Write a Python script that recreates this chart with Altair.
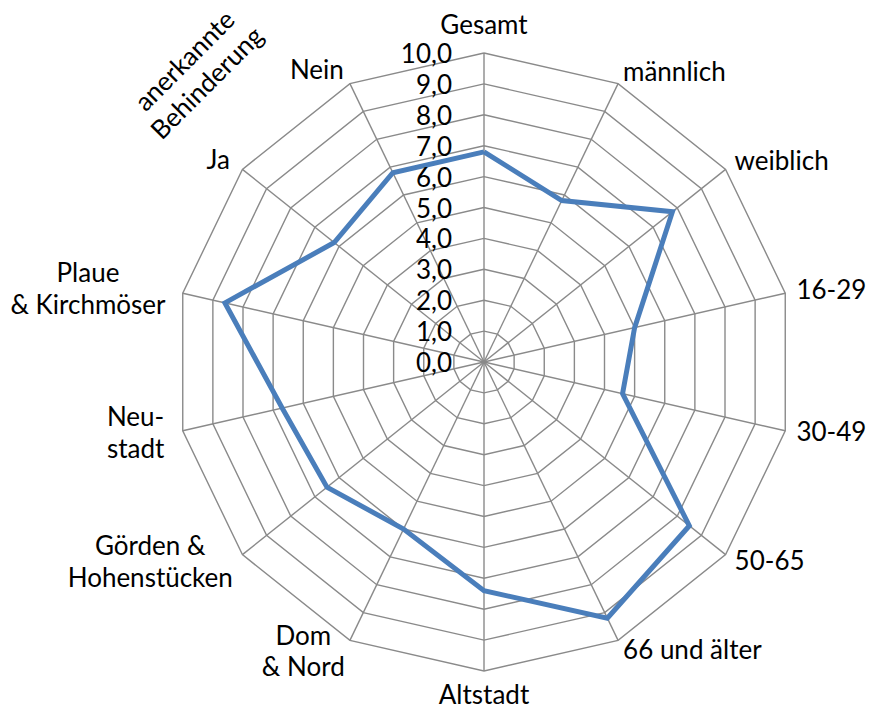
import math
import altair as alt
import pandas as pd

# ---------------- data ----------------
categories = ["Gesamt", "männlich", "weiblich", "16-29", "30-49", "50-65",
              "66 und älter", "Altstadt", "Dom\n& Nord", "Görden &\nHohenstücken",
              "Neu-\nstadt", "Plaue\n& Kirchmöser", "Ja", "Nein"]
values = [6.8, 5.8, 7.8, 5.0, 4.6, 8.5, 9.2, 7.4, 6.0, 6.5, 6.7, 8.6, 6.2, 6.8]
tick_values = [0, 1, 2, 3, 4, 5, 6, 7, 8, 9, 10]
tick_labels = ["0,0", "1,0", "2,0", "3,0", "4,0", "5,0", "6,0", "7,0", "8,0", "9,0", "10,0"]
group_label = ["anerkannte\nBehinderung"]

# ---------------- layout constants ----------------
N = len(categories)
RMAX = 10
PX = 30.9            # pixels per unit
W, H = 858, 702
CX, CY = 476, 354    # center in plot pixels
x_dom = [-CX / PX, (W - CX) / PX]
y_dom = [-(H - CY) / PX, CY / PX]
FONT = "Lato"
FS = 26
LH = 31.5
GRID = "#8a8a8a"
BLUE = "#4a7ebb"


def pol(r, i):
    a = 2 * math.pi * i / N
    return r * math.sin(a), r * math.cos(a)


xs = alt.Scale(domain=x_dom, nice=False, zero=False)
ys = alt.Scale(domain=y_dom, nice=False, zero=False)
X = lambda f="x": alt.X(f"{f}:Q", scale=xs, axis=None)
Y = lambda f="y": alt.Y(f"{f}:Q", scale=ys, axis=None)

# series (closed polygon)
ser_rows = []
for k in range(N + 1):
    i = k % N
    x, y = pol(values[i], k)
    ser_rows.append({"k": k, "cat": categories[i], "value": values[i], "x": x, "y": y})
ser = pd.DataFrame(ser_rows)

# grid rings
ring_rows = []
for lv in tick_values[1:]:
    for k in range(N + 1):
        x, y = pol(lv, k)
        ring_rows.append({"level": lv, "k": k, "x": x, "y": y})
rings = pd.DataFrame(ring_rows)

# spokes
spk_rows = []
for i in range(N):
    x, y = pol(RMAX, i)
    spk_rows.append({"i": i, "x": 0.0, "y": 0.0, "x2": x, "y2": y})
spokes = pd.DataFrame(spk_rows)

# tick labels
ticks = pd.DataFrame({"x": [0.0] * len(tick_values), "y": tick_values, "t": tick_labels})

# category labels
lab_rows = []
for i, c in enumerate(categories):
    a = 2 * math.pi * i / N
    s, co = math.sin(a), math.cos(a)
    lines = c.split("\n")
    if abs(s) < 0.05:
        grp = "center"
        r = RMAX + 27.5 / PX if co > 0 else RMAX + 24.5 / PX
        x, y = r * s, r * co
    elif s > 0:
        grp = "left"
        r = RMAX + 11.5 / PX
        x, y = r * s, r * co
    else:
        grp = "mid"
        r = RMAX + 13.5 / PX
        est_w = max(len(l) for l in lines) * 13.6 / PX
        x, y = r * s - est_w / 2, r * co
    # multi-line blocks: Vega puts first line at the anchor -> lift block to center it
    y += (len(lines) - 1) * LH / 2 / PX
    lab_rows.append({"label": c, "x": x, "y": y, "grp": grp})
labs = pd.DataFrame(lab_rows)

# group annotation (rotated 45°, two lines)
ga_r, ga_a = 13.2, math.radians(-44.8)
gx, gy = ga_r * math.sin(ga_a), ga_r * math.cos(ga_a)
shift = LH / 2 / PX * math.sqrt(0.5)
grp_df = pd.DataFrame({"label": group_label, "x": [gx - shift], "y": [gy + shift]})

# ---------------- layers ----------------
ring_layer = alt.Chart(rings).mark_line(color=GRID, strokeWidth=1.4).encode(
    x=X(), y=Y(), detail="level:N", order="k:Q")
spoke_layer = alt.Chart(spokes).mark_rule(color=GRID, strokeWidth=1.4).encode(
    x=X(), y=Y(), x2="x2:Q", y2="y2:Q")
series_layer = alt.Chart(ser).mark_line(color=BLUE, strokeWidth=5, strokeJoin="miter").encode(
    x=X(), y=Y(), order="k:Q")
tick_layer = alt.Chart(ticks).mark_text(
    align="right", baseline="middle", dx=-32, dy=2, font=FONT, fontSize=FS, color="black").encode(
    x=X(), y=Y(), text="t:N")


def lab_layer(grp, align):
    return alt.Chart(labs).transform_filter(alt.datum.grp == grp).mark_text(
        align=align, baseline="middle", font=FONT, fontSize=FS, color="black",
        lineBreak="\n", lineHeight=LH).encode(x=X(), y=Y(), text="label:N")


group_layer = alt.Chart(grp_df).mark_text(
    align="center", baseline="middle", angle=315, font=FONT, fontSize=FS, color="black",
    lineBreak="\n", lineHeight=LH).encode(x=X(), y=Y(), text="label:N")

chart = alt.layer(
    ring_layer, spoke_layer, series_layer, tick_layer,
    lab_layer("center", "center"), lab_layer("left", "left"), lab_layer("mid", "center"),
    group_layer,
).properties(
    width=W, height=H, padding=0, autosize=alt.AutoSizeParams(type="none")
).configure_view(stroke=None)

chart.save("out.html", embed_options={"renderer": "svg", "actions": False})
